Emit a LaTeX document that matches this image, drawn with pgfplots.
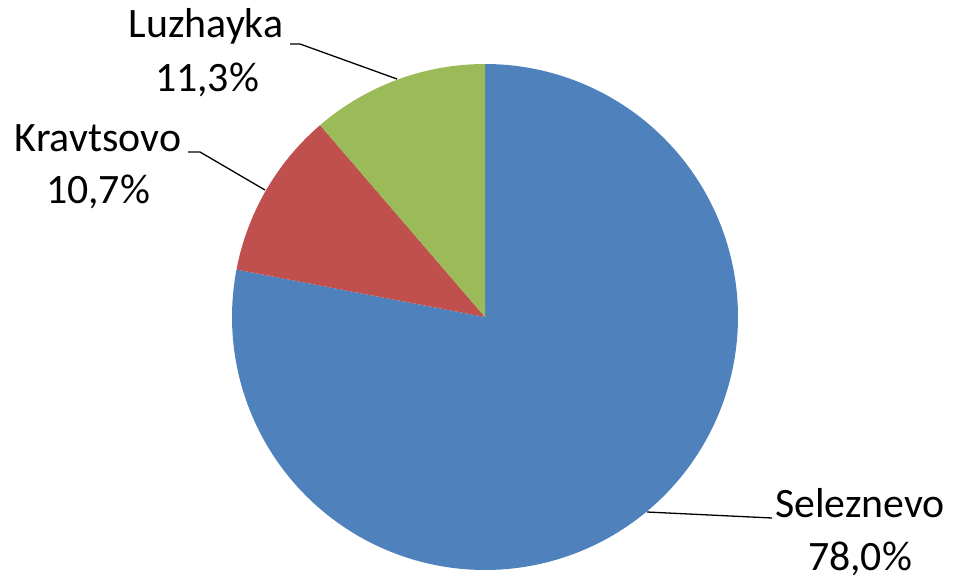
\documentclass[border=0pt]{standalone}
\usepackage{pgfplots}
\pgfplotsset{compat=1.18}
\usepackage{fontspec}
\setmainfont{Carlito}
\definecolor{cBlue}{HTML}{4F81BD}
\definecolor{cRed}{HTML}{C0504D}
\definecolor{cGreen}{HTML}{9BBB59}
% shares in percent
\def\pSel{78.0}
\def\pKra{10.7}
\def\pLuz{11.3}
\newcommand{\lbl}{\fontsize{42}{50}\selectfont}
\begin{document}
\begin{tikzpicture}
\pgfmathsetmacro{\aA}{90}
\pgfmathsetmacro{\aB}{90-3.6*\pSel}
\pgfmathsetmacro{\aC}{\aB-3.6*\pKra}
\pgfmathsetmacro{\aD}{\aC-3.6*\pLuz}
\begin{axis}[
  width=965bp, height=577bp, scale only axis,
  xmin=0, xmax=965, ymin=0, ymax=577,
  hide axis, clip=false,
]
\addplot[draw=none] coordinates {(0,0) (965,577)};
% wedges
\addplot[fill=cBlue, draw=none, domain=\aB:\aA, samples=200, variable=\t]
  ({485+253*cos(\t)},{260+253*sin(\t)}) -- (485,260) -- cycle;
\addplot[fill=cRed, draw=none, domain=\aC:\aB, samples=60, variable=\t]
  ({485+253*cos(\t)},{260+253*sin(\t)}) -- (485,260) -- cycle;
\addplot[fill=cGreen, draw=none, domain=\aD:\aC, samples=60, variable=\t]
  ({485+253*cos(\t)},{260+253*sin(\t)}) -- (485,260) -- cycle;
% leader lines
\addplot[black, line width=1.3pt] coordinates {(397,498) (300,533) (290,533)};
\addplot[black, line width=1.3pt] coordinates {(265,387) (200,425) (188,425)};
\addplot[black, line width=1.3pt] coordinates {(647,65) (772,59)};
% labels
\node[anchor=base, font=\lbl] at (axis cs:206,539) {Luzhayka};
\node[anchor=base, font=\lbl] at (axis cs:207,485) {11,3\%};
\node[anchor=base, font=\lbl] at (axis cs:98,425) {Kravtsovo};
\node[anchor=base, font=\lbl] at (axis cs:98,374) {10,7\%};
\node[anchor=base, font=\lbl] at (axis cs:860,60) {Seleznevo};
\node[anchor=base, font=\lbl] at (axis cs:860,7) {78,0\%};
\end{axis}
\end{tikzpicture}
\end{document}
